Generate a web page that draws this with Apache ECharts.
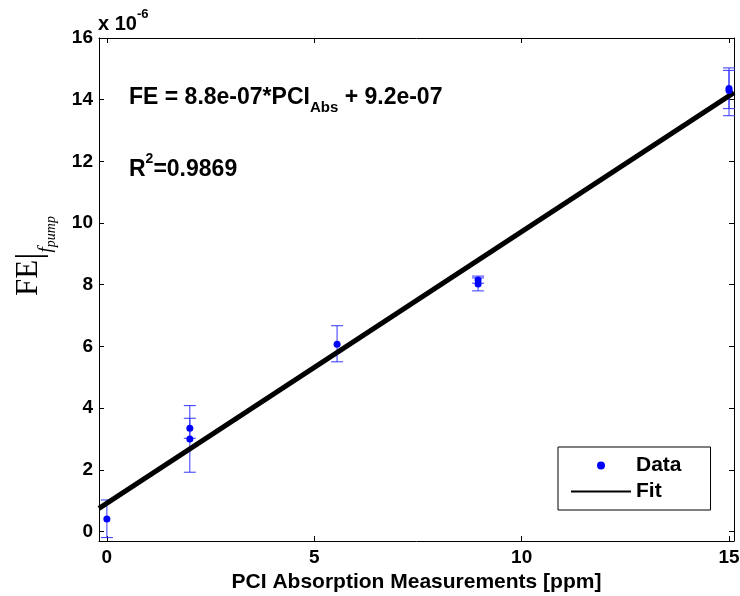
<!DOCTYPE html>
<html>
<head>
<meta charset="utf-8">
<title>FE vs PCI absorption</title>
<script src="https://cdn.jsdelivr.net/npm/echarts@6/dist/echarts.min.js"></script>
<style>
html, body { margin: 0; padding: 0; background: #fff; }
#chart { width: 740px; height: 596px; }
</style>
</head>
<body>
<div id="chart"></div>
<script>
// measured points (FE in units of 1e-6)
var ptX  = [0,    2,    2,    5.55, 8.95, 8.95, 15,    15];
var ptY  = [0.40, 3.35, 3.00, 6.07, 8.15, 8.02, 14.36, 14.30];
var errLo = [-0.20, 3.02, 1.92, 5.50, 8.05, 7.80, 13.71, 13.48];
var errHi = [1.02, 3.67, 4.08, 6.67, 8.28, 8.22, 15.03, 14.95];

// linear fit end points
var fitX = [-0.19, 15.12];
var fitY = [0.75, 14.23];

var xTicks = [0, 5, 10, 15];
var yTicks = [0, 2, 4, 6, 8, 10, 12, 14, 16];

var FONT = 'Liberation Sans';
var my_chart = echarts.init(document.getElementById('chart'));

function build_data(xs, ys)
{
	var out = [];
	for (var i = 0; i < xs.length; ++i)
		out.push([xs[i], ys[i]]);
	return out;
}

var err_data = [];
for (var i = 0; i < ptX.length; ++i)
	err_data.push([ptX[i], ptY[i], errLo[i], errHi[i]]);

function render_err(params, api)
{
	var top = api.coord([api.value(0), api.value(3)]);
	var bot = api.coord([api.value(0), api.value(2)]);
	var hw = 6;
	var st = { stroke: '#3535ff', lineWidth: 1 };
	return {
		type: 'group',
		children: [
			{ type: 'line', shape: { x1: top[0], y1: top[1], x2: bot[0], y2: bot[1] }, style: st },
			{ type: 'line', shape: { x1: top[0] - hw, y1: top[1], x2: top[0] + hw, y2: top[1] }, style: st },
			{ type: 'line', shape: { x1: bot[0] - hw, y1: bot[1], x2: bot[0] + hw, y2: bot[1] }, style: st }
		]
	};
}

function axis_common(show_labels, ticks)
{
	return {
		type: 'value',
		axisLine: { show: true, onZero: false, lineStyle: { color: '#000', width: 1 } },
		axisTick: { show: true, inside: true, length: 5, customValues: ticks, lineStyle: { color: '#000' } },
		axisLabel: { show: show_labels, customValues: ticks, color: '#000', fontFamily: FONT, fontWeight: 'bold', fontSize: 19 },
		splitLine: { show: false }
	};
}

var xBottom = axis_common(true, xTicks);
xBottom.position = 'bottom';
xBottom.min = -0.19; xBottom.max = 15.12;
xBottom.axisLabel.margin = 7;
xBottom.name = 'PCI Absorption Measurements [ppm]';
xBottom.nameLocation = 'middle';
xBottom.nameGap = 29;
xBottom.nameTextStyle = { color: '#000', fontFamily: FONT, fontWeight: 'bold', fontSize: 21 };

var xTop = axis_common(false, xTicks);
xTop.position = 'top';
xTop.min = -0.19; xTop.max = 15.12;

var yLeft = axis_common(true, yTicks);
yLeft.position = 'left';
yLeft.min = -0.31; yLeft.max = 16;
yLeft.axisLabel.margin = 6;

var yRight = axis_common(false, yTicks);
yRight.position = 'right';
yRight.min = -0.31; yRight.max = 16;

var option = {
	animation: false,
	backgroundColor: '#fff',
	grid: { left: 99, right: 6, top: 38, bottom: 55, containLabel: false, outerBoundsMode: 'none' },
	xAxis: [xBottom, xTop],
	yAxis: [yLeft, yRight],
	legend: {
		data: ['Data', { name: 'Fit', itemStyle: { color: 'rgba(0,0,0,0)', borderWidth: 0 } }],
		orient: 'vertical',
		left: 558,
		top: 447,
		padding: [8, 29, 8, 12],
		itemGap: 5,
		itemWidth: 60,
		itemHeight: 8,
		borderColor: '#000',
		borderWidth: 1,
		borderRadius: 0,
		backgroundColor: '#fff',
		textStyle: { color: '#000', fontFamily: FONT, fontWeight: 'bold', fontSize: 21 }
	},
	graphic: [
		{
			type: 'text', left: 98, top: 8,
			style: {
				text: '{m|x 10}{s|-6}',
				rich: {
					m: { fontFamily: FONT, fontWeight: 'bold', fontSize: 20, lineHeight: 20, padding: [6, 0, 0, 0], verticalAlign: 'top', fill: '#000' },
					s: { fontFamily: FONT, fontWeight: 'bold', fontSize: 13, lineHeight: 13, verticalAlign: 'top', fill: '#000' }
				}
			}
		},
		{
			type: 'text', left: 129, top: 86,
			style: {
				text: '{t|FE = 8.8e-07*PCI}{s|Abs}{t| + 9.2e-07}',
				rich: {
					t: { fontFamily: FONT, fontWeight: 'bold', fontSize: 23, lineHeight: 23, verticalAlign: 'top', fill: '#000' },
					s: { fontFamily: FONT, fontWeight: 'bold', fontSize: 15, lineHeight: 15, padding: [14, 0, 0, 0], verticalAlign: 'top', fill: '#000' }
				}
			}
		},
		{
			type: 'text', left: 129, top: 152,
			style: {
				text: '{t|R}{s|2}{t|=0.9869}',
				rich: {
					t: { fontFamily: FONT, fontWeight: 'bold', fontSize: 23, lineHeight: 23, padding: [6, 0, 0, 0], verticalAlign: 'top', fill: '#000' },
					s: { fontFamily: FONT, fontWeight: 'bold', fontSize: 14, lineHeight: 14, verticalAlign: 'top', fill: '#000' }
				}
			}
		},
		{
			type: 'text', x: 13, y: 256, rotation: Math.PI / 2,
			style: {
				text: '{fe|FE}{bar||}{f|f}{p|pump}',
				align: 'center',
				verticalAlign: 'top',
				rich: {
					fe: { fontFamily: 'Liberation Serif', fontSize: 31, lineHeight: 26, verticalAlign: 'top', fill: '#000' },
					bar: { fontFamily: 'Liberation Serif', fontSize: 36, lineHeight: 30, verticalAlign: 'top', fill: '#000' },
					f: { fontFamily: 'Liberation Serif', fontStyle: 'italic', fontSize: 19, lineHeight: 19, padding: [23, 0, 0, 0], verticalAlign: 'top', fill: '#000' },
					p: { fontFamily: 'Liberation Serif', fontStyle: 'italic', fontSize: 14, lineHeight: 14, padding: [31, 0, 0, 0], verticalAlign: 'top', fill: '#000' }
				}
			}
		}
	],
	series: [
		{
			name: 'errors',
			type: 'custom',
			renderItem: render_err,
			data: err_data,
			z: 2,
			encode: { x: 0, y: [2, 3] }
		},
		{
			name: 'Fit',
			type: 'line',
			data: build_data(fitX, fitY),
			symbol: 'none',
			showSymbol: false,
			lineStyle: { color: '#000', width: 5 },
			itemStyle: { color: '#000' },
			z: 3
		},
		{
			name: 'Data',
			type: 'scatter',
			data: build_data(ptX, ptY),
			symbol: 'circle',
			symbolSize: 7,
			itemStyle: { color: '#0000ff', opacity: 1 },
			z: 4
		}
	]
};

my_chart.setOption(option);
</script>
</body>
</html>
